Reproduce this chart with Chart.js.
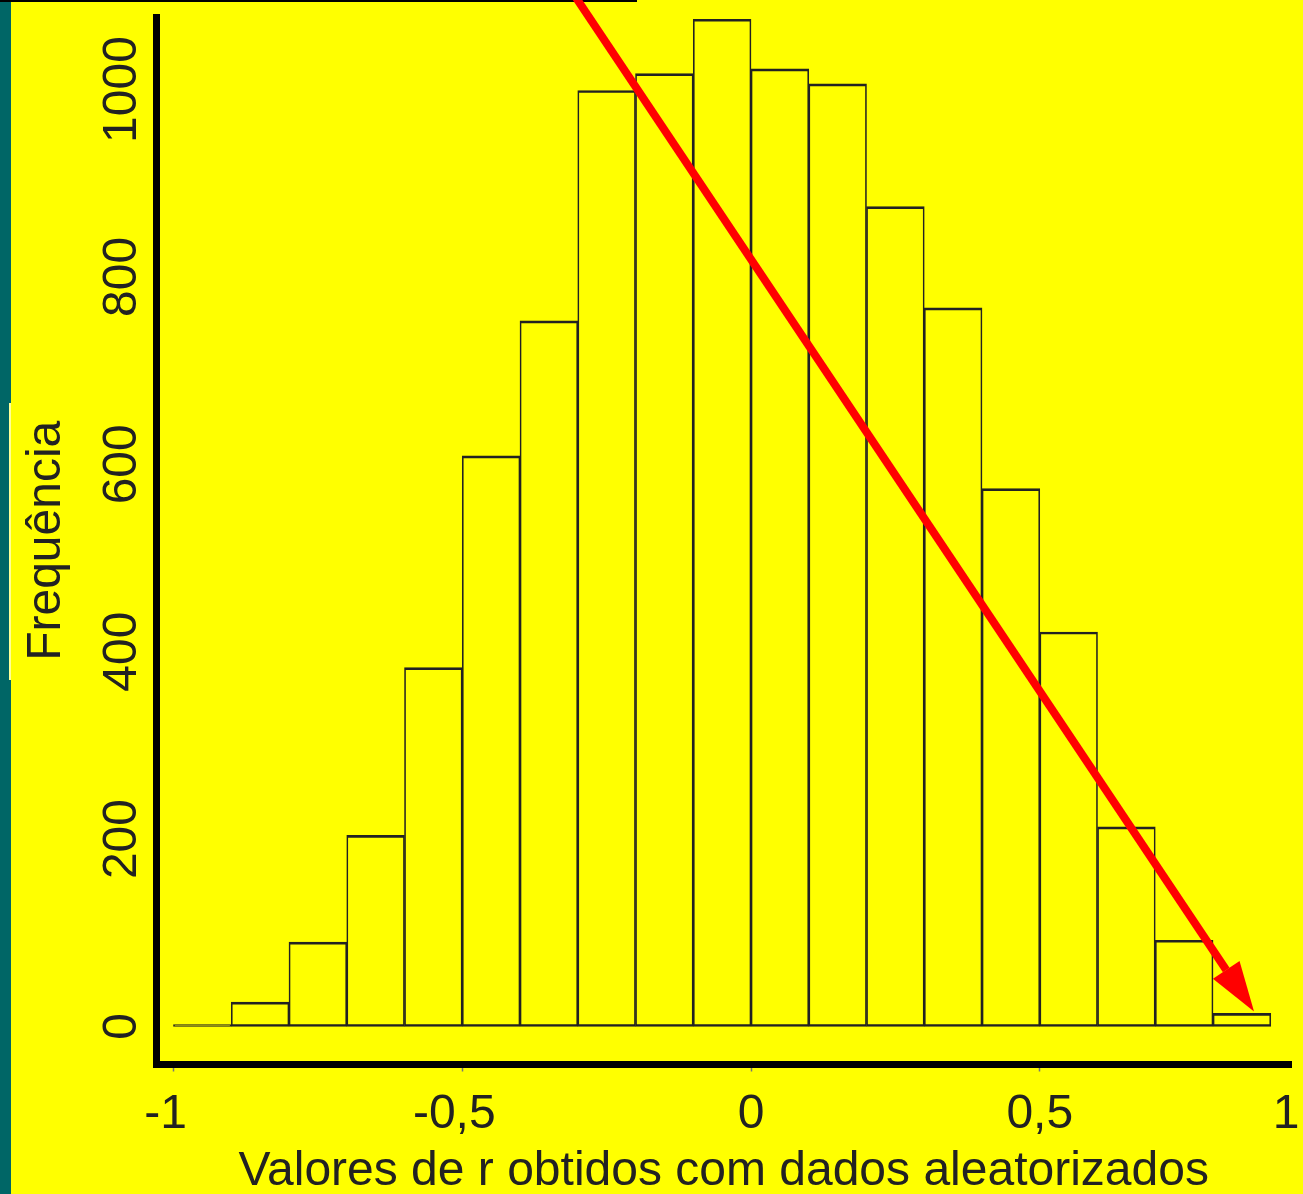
<!DOCTYPE html>
<html>
<head>
<meta charset="utf-8">
<script src="https://cdn.jsdelivr.net/npm/chart.js@4.4.1/dist/chart.umd.min.js"></script>
<style>
  html, body { margin: 0; padding: 0; background: #ffff00; overflow: hidden; }
  #wrap { width: 1303px; height: 1194px; }
</style>
</head>
<body>
<div id="wrap"><canvas id="histo" width="1303" height="1194"></canvas></div>
<script>
// bins of r (width 0.1) and how many randomised runs fell in each
const binCenters = [-0.95, -0.85, -0.75, -0.65, -0.55, -0.45, -0.35, -0.25, -0.15, -0.05,
                    0.05, 0.15, 0.25, 0.35, 0.45, 0.55, 0.65, 0.75, 0.85];
const freq = [2, 26, 90, 204, 383, 609, 753, 999, 1017, 1075,
              1022, 1006, 875, 767, 574, 421, 213, 92, 14];

const xTickValues = [-1, -0.5, 0, 0.5, 1];
const xTickLabels = ['-1', '-0,5', '0', '0,5', '1'];
const yTickValues = [0, 200, 400, 600, 800, 1000];
const yTickLabels = ['0', '200', '400', '600', '800', '1000'];

// red arrow, in data units: from above the plot down to the last bin
const arrowX = [-0.316, 0.871];
const arrowY = [1110, 16];

const FONT = '"Liberation Sans", Arial, Helvetica, sans-serif';
const INK = '#222';

const slideBits = {
  id: 'slideBits',
  beforeDraw(chart) {
    const {ctx, width, height} = chart;
    ctx.save();
    ctx.fillStyle = '#ffff00';
    ctx.fillRect(0, 0, width, height);
    // teal edge of the slide
    ctx.fillStyle = '#006666';
    ctx.fillRect(0, 0, 11, height);
    ctx.fillStyle = '#ffff99';
    ctx.fillRect(9, 403, 2, 277);
    ctx.fillStyle = '#ffff00';
    ctx.fillRect(11, 403, 1, 277);
    // black rule at the top
    ctx.fillStyle = '#000';
    ctx.fillRect(0, 0, 637, 2);
    ctx.restore();
  }
};

const tickText = {
  id: 'tickText',
  afterDraw(chart) {
    const {ctx, chartArea, scales: {x, y}} = chart;
    ctx.save();
    ctx.fillStyle = INK;
    ctx.font = '48px ' + FONT;
    ctx.textBaseline = 'alphabetic';
    ctx.textAlign = 'center';
    // y labels, rotated like R's las=0
    yTickValues.forEach((v, i) => {
      ctx.save();
      ctx.translate(chartArea.left - 20.5, y.getPixelForValue(v));
      ctx.rotate(-Math.PI / 2);
      ctx.fillText(yTickLabels[i], 0, 0);
      ctx.restore();
    });
    const minusW = ctx.measureText('-').width;
    xTickValues.forEach((v, i) => {
      let px = Math.min(x.getPixelForValue(v), chartArea.right - 5);
      const lab = xTickLabels[i];
      if (lab[0] === '-') px -= minusW / 2;
      ctx.fillText(lab, px, chartArea.bottom + 63.5);
    });
    ctx.restore();
  }
};

const arrow = {
  id: 'arrow',
  afterDraw(chart) {
    const {ctx, scales: {x, y}} = chart;
    const x0 = x.getPixelForValue(arrowX[0]), y0 = y.getPixelForValue(arrowY[0]);
    const x1 = x.getPixelForValue(arrowX[1]), y1 = y.getPixelForValue(arrowY[1]);
    const ang = Math.atan2(y1 - y0, x1 - x0);
    const headLen = 50, headHalf = 16;
    const bx = x1 - headLen * Math.cos(ang), by = y1 - headLen * Math.sin(ang);
    ctx.save();
    ctx.strokeStyle = '#ff0000';
    ctx.fillStyle = '#ff0000';
    ctx.lineWidth = 8;
    ctx.beginPath();
    ctx.moveTo(x0, y0);
    ctx.lineTo(bx, by);
    ctx.stroke();
    ctx.beginPath();
    ctx.moveTo(x1, y1);
    ctx.lineTo(bx + headHalf * Math.sin(ang), by - headHalf * Math.cos(ang));
    ctx.lineTo(bx - headHalf * Math.sin(ang), by + headHalf * Math.cos(ang));
    ctx.closePath();
    ctx.fill();
    ctx.restore();
  }
};

new Chart(document.getElementById('histo'), {
  type: 'bar',
  data: {
    datasets: [{
      label: 'Frequência',
      data: binCenters.map((c, i) => ({x: c, y: freq[i]})),
      backgroundColor: 'rgba(0,0,0,0)',
      borderColor: INK,
      borderWidth: {top: 2, bottom: 2, left: 1, right: 1},
      borderSkipped: false,
      barPercentage: 1,
      categoryPercentage: 1
    }]
  },
  options: {
    responsive: false,
    animation: false,
    layout: { padding: {top: 17, right: 12, left: 0, bottom: 0} },
    plugins: {
      legend: { display: false },
      tooltip: { enabled: false }
    },
    scales: {
      x: {
        type: 'linear',
        min: -1.0294,
        max: 0.935,
        offset: false,
        afterBuildTicks: s => { s.ticks = xTickValues.filter(v => v <= s.max).map(v => ({value: v})); },
        afterFit: s => { s.height = 129.5; },
        ticks: { display: false },
        grid: { display: true, offset: false, drawOnChartArea: false, drawTicks: true,
                tickLength: 7, tickWidth: 1.5, tickColor: '#777' },
        border: { display: true, color: '#000', width: 7 },
        title: {
          display: true,
          text: 'Valores de r obtidos com dados aleatorizados',
          color: INK,
          font: { family: FONT, size: 48, lineHeight: 1 },
          padding: { top: 0, bottom: -1.4 }
        }
      },
      y: {
        min: -40.6,
        max: 1077.4,
        afterBuildTicks: s => { s.ticks = yTickValues.map(v => ({value: v})); },
        afterFit: s => { s.width = 156.5; },
        ticks: { display: false },
        grid: { display: false },
        border: { display: true, color: '#000', width: 7 },
        title: {
          display: true,
          text: 'Frequência',
          color: INK,
          font: { family: FONT, size: 48, lineHeight: 1 },
          padding: { top: 22.4, bottom: 0 }
        }
      }
    }
  },
  plugins: [slideBits, tickText, arrow]
});
</script>
</body>
</html>
